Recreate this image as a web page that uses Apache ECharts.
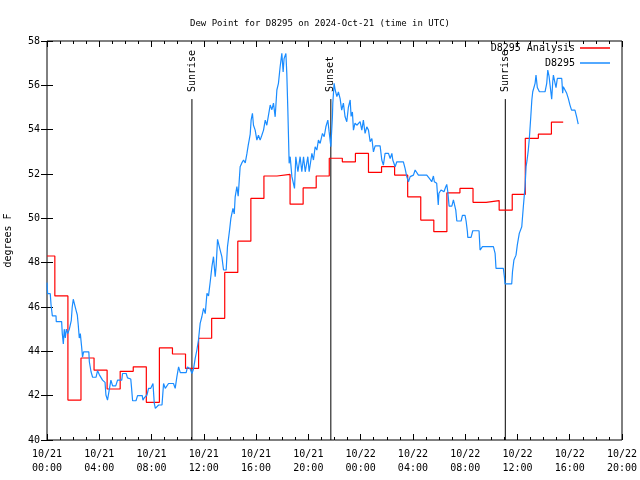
<!DOCTYPE html>
<html><head><meta charset="utf-8">
<script src="https://cdn.jsdelivr.net/npm/echarts@6/dist/echarts.min.js"></script>
<style>html,body{margin:0;padding:0;background:#fff}#c{width:640px;height:480px}</style>
</head><body><div id="c"></div>
<script>
// ---- data (hours since 2024-10-21 00:00 UTC) ----
const xTickLabels = ['10/21\n00:00','10/21\n04:00','10/21\n08:00','10/21\n12:00','10/21\n16:00','10/21\n20:00',
  '10/22\n00:00','10/22\n04:00','10/22\n08:00','10/22\n12:00','10/22\n16:00','10/22\n20:00'];
const yTicks = [40,42,44,46,48,50,52,54,56,58];

const analysisHours = [0,0.6,1.6,2.6,3.6,4.6,5.6,6.6,7.6,8.6,9.6,10.6,11.6,12.6,13.6,14.6,15.6,16.6,17.6,18.6,19.6,20.6,
  21.6,22.6,23.6,24.6,25.6,26.6,27.6,28.6,29.6,30.6,31.6,32.6,33.6,34.6,35.6,36.6,37.6,38.6,39.5];
const analysisValues = [48.3,46.5,41.8,43.7,43.15,42.3,43.1,43.3,41.7,44.16,43.88,43.23,44.59,45.49,47.56,48.97,50.9,51.91,51.98,50.64,51.37,51.91,
  52.71,52.55,52.93,52.07,52.33,51.95,50.97,49.92,49.4,51.15,51.35,50.72,50.8,50.37,51.08,53.61,53.8,54.34,54.34];

const obsHours = [0,0.05,0.25,0.31,0.41,0.69,0.71,1.12,1.17,1.25,1.32,1.40,1.48,1.59,1.71,1.86,1.93,2.01,2.14,2.22,2.32,2.39,2.47,2.55,2.65,2.72,2.80,3.20,3.24,3.37,3.49,3.75,3.87,4.0,4.25,4.44,4.51,4.63,4.76,4.89,5.02,5.26,5.40,5.72,5.78,6.06,6.16,6.41,6.47,6.55,6.81,6.93,7.29,7.34,
  7.44,7.65,7.77,7.94,8.11,8.21,8.29,8.41,8.54,8.80,8.92,9.05,9.18,9.30,9.68,9.81,9.94,10.07,10.20,10.65,10.75,10.96,11.09,11.21,11.34,11.47,11.59,11.72,11.85,11.98,12.11,12.24,12.36,12.49,12.62,12.74,12.87,12.95,13.05,13.20,13.25,13.38,13.51,13.71,13.81,13.97,14.07,14.23,14.33,14.40,14.53,14.63,14.78,14.91,15.04,15.17,15.30,15.40,15.47,15.55,15.62,15.72,15.80,15.93,16.06,16.18,16.31,16.44,16.57,16.70,16.82,16.95,17.08,17.21,17.33,17.46,17.59,17.71,17.84,17.97,18.07,18.14,18.28,18.35,18.43,18.53,18.61,18.74,18.84,18.94,19.04,19.20,19.37,19.50,19.63,19.76,19.96,20.06,20.27,20.39,20.52,20.65,20.77,20.90,21.08,21.21,21.34,21.49,21.59,21.72,21.84,21.87,21.97,22.05,22.18,22.30,22.43,22.55,22.68,22.81,22.94,23.06,23.20,23.27,23.37,23.45,23.57,23.71,23.83,23.96,24.09,24.21,24.34,24.47,24.60,24.73,24.86,24.98,25.11,25.49,25.62,25.74,25.87,26.13,26.26,26.39,26.46,26.64,26.77,27.27,27.40,27.53,27.66,27.79,28.04,28.17,28.32,28.42,29.06,29.26,29.31,29.44,29.57,29.64,29.82,29.94,29.99,30.15,30.38,30.50,30.59,30.67,30.77,30.98,31.10,31.17,31.28,31.36,31.69,31.79,31.99,32.07,32.17,32.20,32.45,32.58,33.06,33.14,33.21,33.32,34.16,34.29,34.36,34.92,35.0,35.05,35.56,35.62,35.73,35.89,35.99,36.14,36.33,36.45,36.58,36.66,36.73,36.83,36.91,37.02,37.10,37.17,37.27,37.35,37.42,37.52,37.68,38.11,38.24,38.32,38.42,38.53,38.62,38.70,38.75,38.88,38.95,39.05,39.39,39.46,39.51,39.64,39.77,39.89,40.02,40.14,40.40,40.53,40.65];
const obsValues = [47.1,46.6,46.6,46.09,45.6,45.6,45.34,45.34,44.8,44.33,45.0,44.6,45.0,44.8,45.0,45.4,46.0,46.35,46.35,45.86,45.64,45.2,44.6,44.8,44.2,43.74,43.98,43.98,43.53,43.08,42.83,42.83,43.13,42.95,42.7,42.6,42.03,41.8,42.25,42.7,42.44,42.44,42.7,42.7,43.0,43.0,42.8,42.75,42.35,41.77,41.77,42.0,42.0,41.8,
  41.9,42.03,42.33,42.33,42.55,41.65,41.43,41.35,41.58,41.58,42.55,42.33,42.33,42.55,42.55,42.33,42.86,43.3,43.04,43.04,43.3,43.2,43.0,43.2,43.68,44.06,44.51,45.26,45.56,45.94,45.7,46.62,46.5,47.14,47.82,48.27,47.37,47.9,49.05,49.05,48.57,48.27,47.67,47.67,48.72,49.47,50.0,50.45,50.2,50.97,51.43,51.0,52.33,52.5,52.63,52.5,52.93,53.3,53.53,53.8,54.43,54.74,54.2,53.98,53.53,53.75,53.53,53.75,53.98,54.43,54.2,54.66,55.11,54.9,55.2,54.58,55.79,56.09,56.84,57.44,56.6,57.2,57.44,56.54,54.88,52.48,52.78,51.88,51.9,51.35,52.78,52.1,52.78,52.1,52.78,52.1,52.78,52.1,52.93,52.63,53.23,53.08,53.53,53.38,53.83,53.68,54.13,54.43,53.9,53.23,54.58,55.19,56.09,55.8,55.49,55.7,55.4,54.88,55.2,54.58,54.36,55.0,55.34,54.6,54.8,53.98,54.3,54.2,54.13,54.36,53.98,54.43,53.83,54.13,53.98,53.46,53.6,53.0,53.27,53.27,52.63,52.4,52.93,52.93,52.7,52.93,52.63,52.33,52.55,52.55,52.25,51.88,51.65,51.88,51.95,52.18,52.18,51.95,51.95,51.8,51.73,51.65,51.91,51.65,51.58,50.6,51.13,51.28,51.2,51.4,51.53,51.2,50.55,50.55,50.83,50.83,50.37,49.88,49.88,50.13,50.13,49.88,49.4,49.14,49.14,49.44,49.44,48.57,48.49,48.72,48.72,48.42,47.74,47.74,47.37,47.04,47.04,47.59,48.12,48.34,48.8,49.32,49.62,50.52,51.43,52.33,52.6,53.08,53.61,54.58,55.34,55.71,55.8,56.09,56.46,55.9,55.71,55.71,56.09,56.69,56.4,56.4,55.37,56.16,56.46,56.09,55.9,56.31,56.31,55.64,55.94,55.87,55.64,55.41,55.11,54.88,54.88,54.58,54.25];

const sunEventHours = [11.09, 21.72, 35.07];
const sunEventNames = ['Sunrise', 'Sunset', 'Sunrise'];
// ---- end data ----

const FONT = 'DejaVu Sans Mono';
const zip = (a, b) => a.map((x, i) => [x, b[i]]);
const LINE_TOP = 55.38;

const sunSeries = sunEventHours.map((t, i) => ({
  type: 'line', name: 'ev' + i, symbol: 'circle', symbolSize: 0.01, showSymbol: true, silent: true, z: 1,
  lineStyle: { color: '#000', width: 1 }, itemStyle: { color: 'rgba(0,0,0,0)' },
  labelLayout: { hideOverlap: false },
  data: [[t, 40], { value: [t, LINE_TOP], label: {
    show: true, formatter: sunEventNames[i], position: 'top', distance: 7, rotate: 90,
    align: 'left', verticalAlign: 'middle', fontFamily: FONT, fontSize: 10, color: '#000' } }]
}));

const axisCommonX = {
  type: 'value', min: 0, max: 44, interval: 4,
  axisLine: { show: false }, splitLine: { show: false },
  axisTick: { show: true, inside: true, length: 6, lineStyle: { color: '#000' } },
  minorTick: { show: true, splitNumber: 4, length: 3, lineStyle: { color: '#000' } }
};
const axisCommonY = {
  type: 'value', min: 40, max: 58, interval: 2,
  axisLine: { show: false }, splitLine: { show: false },
  axisTick: { show: true, inside: true, length: 6, lineStyle: { color: '#000' } }
};

const chart = echarts.init(document.getElementById('c'), null, { renderer: 'canvas' });
chart.setOption({
  animation: false,
  backgroundColor: '#fff',
  title: { text: 'Dew Point for D8295 on 2024-Oct-21 (time in UTC)', left: 'center', top: 14,
    textStyle: { fontFamily: FONT, fontSize: 9, fontWeight: 'normal', color: '#000' } },
  grid: { left: 47, right: 18, top: 41, bottom: 40, outerBoundsMode: 'none', containLabel: false,
    show: true, borderColor: '#000', borderWidth: 1, backgroundColor: 'transparent' },
  legend: { data: ['D8295 Analysis', 'D8295'], orient: 'vertical', right: 30, top: 42, align: 'right', padding: 0,
    icon: 'rect', itemWidth: 30, itemHeight: 1.5, itemGap: 3,
    textStyle: { fontFamily: FONT, fontSize: 10, color: '#000', lineHeight: 12 } },
  xAxis: [
    Object.assign({}, axisCommonX, { position: 'bottom',
      axisLabel: { margin: 7, fontFamily: FONT, fontSize: 10, color: '#000', lineHeight: 14,
        formatter: v => xTickLabels[Math.round(v / 4)] } }),
    Object.assign({}, axisCommonX, { position: 'top', axisLabel: { show: false } })
  ],
  yAxis: [
    Object.assign({}, axisCommonY, { position: 'left', name: 'degrees F', nameLocation: 'middle', nameGap: 34,
      nameTextStyle: { fontFamily: FONT, fontSize: 10, color: '#000' },
      axisLabel: { margin: 7, fontFamily: FONT, fontSize: 10, color: '#000',
        formatter: v => yTicks.includes(v) ? String(v) : '' } }),
    Object.assign({}, axisCommonY, { position: 'right', axisLabel: { show: false } })
  ],
  series: [
    ...sunSeries,
    { type: 'line', name: 'D8295 Analysis', step: 'end', symbol: 'none', z: 2,
      lineStyle: { color: '#ff0000', width: 1.2 }, itemStyle: { color: '#ff0000' },
      data: zip(analysisHours, analysisValues) },
    { type: 'line', name: 'D8295', symbol: 'none', z: 3,
      lineStyle: { color: '#1a8cff', width: 1.2 }, itemStyle: { color: '#1a8cff' },
      data: zip(obsHours, obsValues) }
  ]
});
</script></body></html>
